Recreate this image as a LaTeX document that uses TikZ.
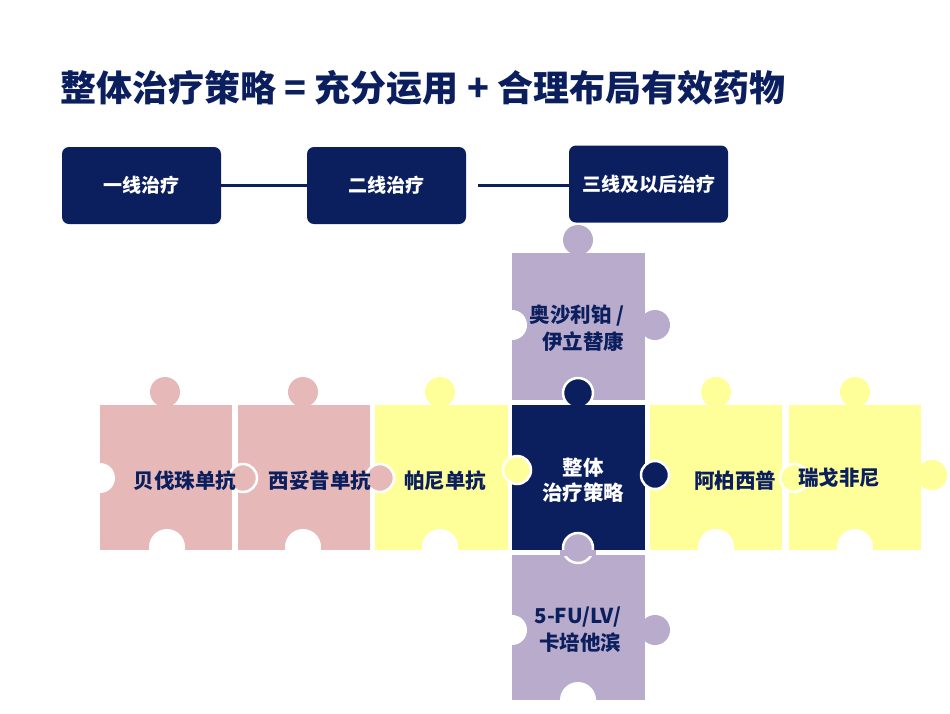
\documentclass[tikz,border=0pt]{standalone}
\usepackage{fontspec}
\setmainfont{Noto Sans CJK SC}
\usetikzlibrary{calc}
\definecolor{navy}{HTML}{0B1F5E}
\definecolor{pk}{HTML}{E6B9B8}
\definecolor{yl}{HTML}{FFFF99}
\definecolor{pu}{HTML}{B9ABCB}
\tikzset{
 stage/.style={fill=navy,rounded corners=7pt,minimum width=159pt,minimum height=77pt,text=white,font=\bfseries\fontsize{19}{22}\selectfont},
 link/.style={navy,line width=3pt},
 hole/.style={fill=white},
 tab/.style={draw=white,line width=2.5pt},
 lbl/.style={text=navy,font=\bfseries\fontsize{20.5}{24}\selectfont,align=center},
}
\begin{document}
\begin{tikzpicture}[x=1pt,y=-1pt]
\useasboundingbox[fill=white] (0,0) rectangle (950,713);
\node[anchor=west,text=navy,font=\bfseries\fontsize{36}{40}\selectfont] (title) at (57,88) {整体治疗策略 = 充分运用 + 合理布局有效药物};
\node[stage] (s1) at (141.5,185.5) {一线治疗};
\node[stage] (s2) at (386.5,185.5) {二线治疗};
\node[stage] (s3) at (648.5,184) {三线及以后治疗};
\draw[link] (s1) -- (s2);
\coordinate (g) at ($(s2.east)+(12,0)$);
\draw[link] (g) -- (g -| s3.west);
% top tabs
\fill[pk] (165,392) circle (15); \fill[pk] (303,392) circle (15);
\fill[yl] (440,392) circle (15); \fill[yl] (716,392) circle (15); \fill[yl] (855,392) circle (15);
\fill[pu] (578,240) circle (15);
\fill[yl] (932,475) circle (15);
\fill[pu] (655,325) circle (15); \fill[pu] (655,630) circle (15);
% rects
\fill[pk] (100,405) rectangle (232,550);
\fill[pk] (238,405) rectangle (370,550);
\fill[yl] (375,405) rectangle (508,550);
\fill[navy] (512,405) rectangle (645,550);
\fill[yl] (650,405) rectangle (782,550);
\fill[yl] (789,405) rectangle (921,550);
\fill[pu] (512,253) rectangle (645,400);
\fill[pu] (512,555) rectangle (645,700);
% holes
\fill[hole] (100,478) circle (15);
\foreach \x in {167,303,440,716,855} \fill[hole] (\x,547) circle (18);
\fill[hole] (512,325) circle (15); \fill[hole] (512,630) circle (15);
\fill[hole] (578,700) circle (18);
% interlocking tabs
\filldraw[tab,fill=pk] (243,478) circle (14);
\filldraw[tab,fill=pk] (380,478) circle (14);
\filldraw[tab,fill=yl] (517,470) circle (14);
\filldraw[tab,fill=navy] (655,475) circle (14);
\filldraw[tab,fill=yl] (794,478) circle (14);
\filldraw[tab,fill=navy] (578,393) circle (15);
\filldraw[tab,fill=pu] (578,548) circle (15);
\fill[navy] (560,405) rectangle (596,412);
\fill[pu] (560,550) rectangle (596,556);
% labels
\node[lbl] (p1) at (185,481) {贝伐珠单抗};
\node[lbl] (p2) at (320,481) {西妥昔单抗};
\node[lbl] (p3) at (445,481) {帕尼单抗};
\node[lbl,text=white,font=\bfseries\fontsize{20.5}{25}\selectfont] (c) at (583,480) {整体\\治疗策略};
\node[lbl] (p5) at (735,481) {阿柏西普};
\node[lbl] (p6) at (839,478) {瑞戈非尼};
\node[lbl,font=\bfseries\fontsize{20.5}{27}\selectfont,align=right] (up) at (577,328) {奥沙利铂 /\\伊立替康};
\node[lbl,font=\bfseries\fontsize{20.5}{27}\selectfont,align=right] (dn) at (578,630) {5-FU/LV/\\卡培他滨};
\end{tikzpicture}
\end{document}
